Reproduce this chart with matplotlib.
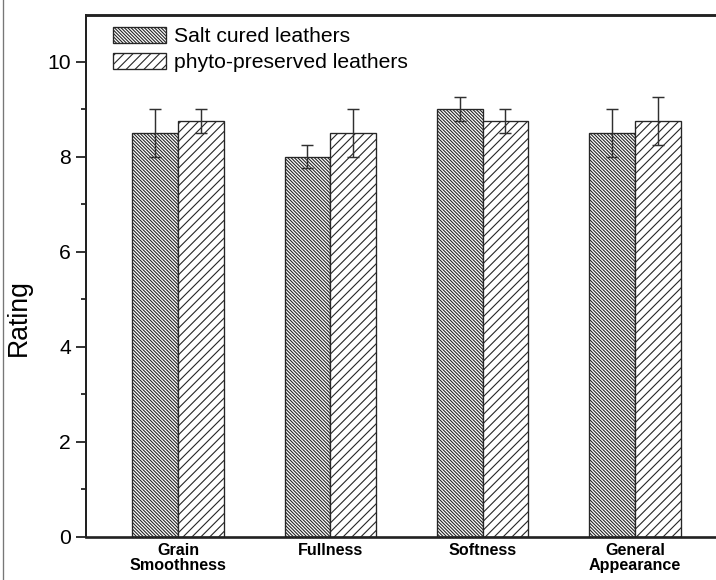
import matplotlib
matplotlib.use("Agg")
import matplotlib.pyplot as plt
from matplotlib.lines import Line2D
from matplotlib.ticker import MultipleLocator
import numpy as np

categories = ["Grain\nSmoothness", "Fullness", "Softness", "General\nAppearance"]
series_names = ["Salt cured leathers", "phyto-preserved leathers"]
salt_mean = [8.5, 8.0, 9.0, 8.5]
salt_err = [0.5, 0.25, 0.25, 0.5]
phyto_mean = [8.75, 8.5, 8.75, 8.75]
phyto_err = [0.25, 0.5, 0.25, 0.5]

DPI = 80
plt.rcParams["font.family"] = ["Liberation Sans", "DejaVu Sans"]
plt.rcParams["hatch.linewidth"] = 1.0

fig = plt.figure(figsize=(716 / DPI, 580 / DPI), dpi=DPI)
ax = fig.add_axes([86 / 716, 43.5 / 580, 1 - 86 / 716, (536.5 - 15) / 580])

x = np.arange(1, len(categories) + 1)
w = 0.30
edge = "#262626"
err_style = dict(ecolor="#303030", elinewidth=1.3, capsize=5.5, capthick=1.3)
ax.bar(x - w / 2, salt_mean, w, yerr=salt_err, hatch="\\" * 8, facecolor="white",
       edgecolor=edge, linewidth=1.2, label=series_names[0], error_kw=err_style)
ax.bar(x + w / 2, phyto_mean, w, yerr=phyto_err, hatch="///", facecolor="white",
       edgecolor=edge, linewidth=1.2, label=series_names[1], error_kw=err_style)

ax.set_xlim(0.396, 4.532)
ax.set_ylim(0, 10.98)
ax.yaxis.set_major_locator(MultipleLocator(2))
ax.yaxis.set_minor_locator(MultipleLocator(1))
ax.set_xticks(x)
ax.set_xticklabels(categories, fontweight="bold", fontsize=14.5, linespacing=1.0)
ax.tick_params(axis="x", length=0, pad=6)
ax.tick_params(axis="y", which="major", length=9, width=1.4, pad=4.5,
               labelsize=19, direction="out")
ax.tick_params(axis="y", which="minor", length=4.5, width=1.4, direction="out")

ax.spines["right"].set_visible(False)
ax.spines["top"].set_linewidth(2.6)
ax.spines["bottom"].set_linewidth(2.4)
ax.spines["left"].set_linewidth(1.8)
for s in ax.spines.values():
    s.set_color("#222222")

ax.set_ylabel("Rating", fontsize=24)
ax.yaxis.set_label_coords(-0.086, 0.419)

ax.legend(loc="upper left", frameon=False, fontsize=19, handlelength=2.5,
          handleheight=0.8, handletextpad=0.4, labelspacing=0.3,
          borderpad=0.0, borderaxespad=0.0, bbox_to_anchor=(0.043, 0.977))

fig.add_artist(Line2D([2.5 / 716, 2.5 / 716], [0, 1], color="#777777", lw=1.2))

fig.savefig("out.png", dpi=DPI)
